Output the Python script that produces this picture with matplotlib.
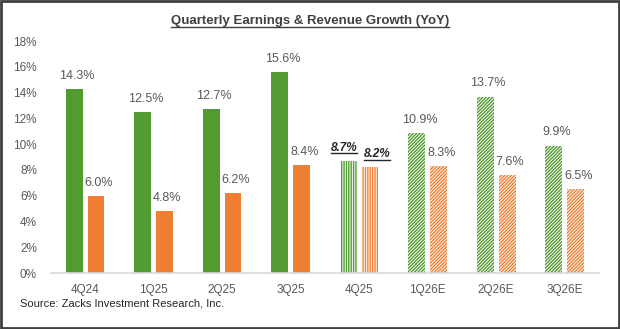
import matplotlib.pyplot as plt
from matplotlib.lines import Line2D
import numpy as np

quarters = ["4Q24", "1Q25", "2Q25", "3Q25", "4Q25", "1Q26E", "2Q26E", "3Q26E"]
earnings = [14.3, 12.5, 12.7, 15.6, 8.7, 10.9, 13.7, 9.9]
revenue = [6.0, 4.8, 6.2, 8.4, 8.2, 8.3, 7.6, 6.5]
yticks = [0, 2, 4, 6, 8, 10, 12, 14, 16, 18]

GREEN = "#529b30"
ORANGE = "#ef7f33"
GRAY = "#595959"

plt.rcParams['font.family'] = ['Liberation Sans', 'DejaVu Sans']
plt.rcParams['hatch.linewidth'] = 1.0

fig = plt.figure(figsize=(6.2, 3.29), dpi=100)
ax = fig.add_axes([0.082, 0.170, 0.884, 0.705])

x = np.arange(len(quarters))
w = 0.245
off = 0.16

for i in range(len(quarters)):
    if i < 4:
        ax.bar(x[i] - off, earnings[i], w, color=GREEN, linewidth=0)
        ax.bar(x[i] + off, revenue[i], w, color=ORANGE, linewidth=0)
    else:
        h = '|||||||' if i == 4 else '//////////'
        ax.bar(x[i] - off, earnings[i], w, facecolor='white', edgecolor=GREEN,
               hatch=h, linewidth=0)
        ax.bar(x[i] + off, revenue[i], w, facecolor='white', edgecolor=ORANGE,
               hatch=h, linewidth=0)

underline = []
for i in range(len(quarters)):
    for k, (xs, v) in enumerate([(x[i] - off, earnings[i]), (x[i] + off, revenue[i])]):
        if i == 4:
            shift = -0.06 if k == 0 else 0.1
            t = ax.text(xs + shift, v + 0.55, f"{v:.1f}%", ha='center', va='bottom',
                        fontsize=8.5, fontweight='bold', fontstyle='italic', color='#262626')
            underline.append(t)
        else:
            ax.text(xs + 0.04, v + 0.55, f"{v:.1f}%", ha='center', va='bottom',
                    fontsize=9, color=GRAY)

ax.set_xlim(-0.5, 7.5)
ax.set_ylim(0, 18)
ax.set_yticks(yticks)
ax.set_yticklabels([f"{t}%" for t in yticks])
ax.set_xticks(x)
ax.set_xticklabels(quarters)
ax.tick_params(axis='both', length=0, labelsize=8.5, labelcolor=GRAY)
ax.tick_params(axis='y', pad=10)
ax.tick_params(axis='x', pad=8)
for s in ['top', 'right', 'left']:
    ax.spines[s].set_visible(False)
ax.spines['bottom'].set_color('#d9d9d9')
ax.spines['bottom'].set_linewidth(1.2)

title = fig.text(0.5, 0.935, "Quarterly Earnings & Revenue Growth (YoY)", ha='center',
                 va='center', fontsize=9.5, fontweight='bold', color='#404040')
underline.append(title)

fig.text(0.032, 0.078, "Source: Zacks Investment Research, Inc.", ha='left', va='center',
         fontsize=8, color='#262626')

# border
fig.add_artist(plt.Rectangle((0.002, 0.003), 0.996, 0.994, transform=fig.transFigure,
                             fill=False, edgecolor='#404040', linewidth=2))

fig.canvas.draw()
r = fig.canvas.get_renderer()
inv = fig.transFigure.inverted()
for t in underline:
    bb = t.get_window_extent(r)
    (x0, y0), (x1, y1) = inv.transform([(bb.x0, bb.y0), (bb.x1, bb.y1)])
    c = t.get_color()
    fig.add_artist(Line2D([x0, x1], [y0 + 0.002, y0 + 0.002], transform=fig.transFigure,
                          color=c, linewidth=1))

fig.savefig("out.png", dpi=100)
